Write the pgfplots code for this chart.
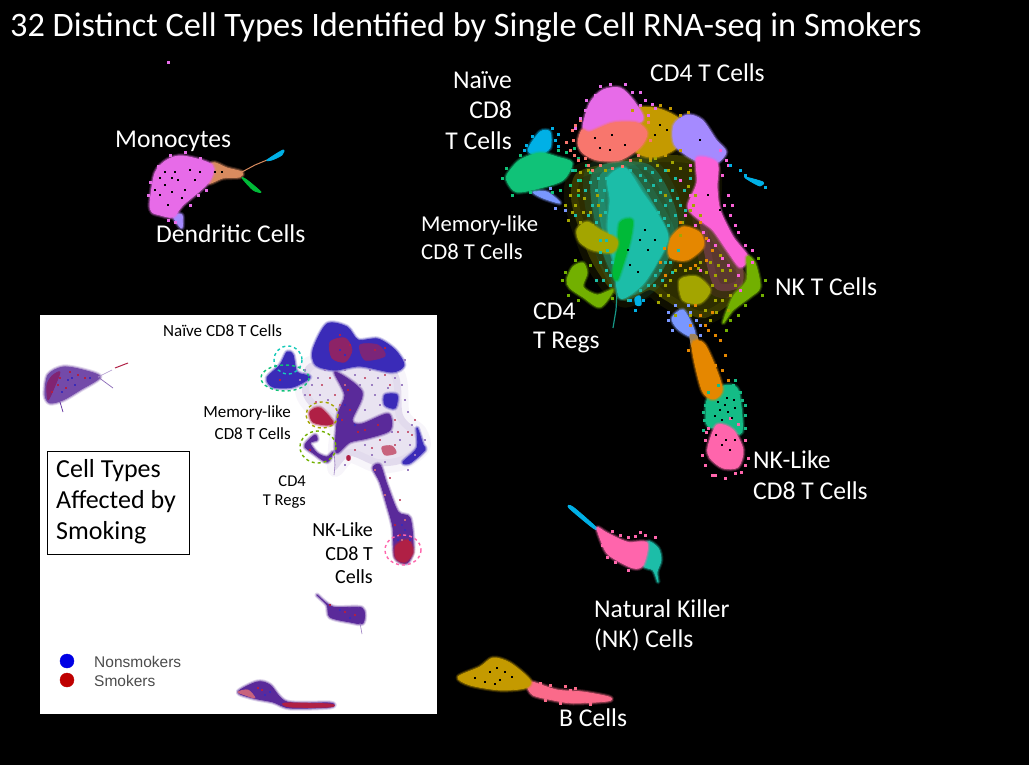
\documentclass[border=0pt]{standalone}
\usepackage{fontspec}
\setmainfont{Carlito}
\newfontfamily\arialf{Liberation Sans}
\usepackage{pgfplots}
\pgfplotsset{compat=1.18}
\definecolor{cViolet}{HTML}{E76BE8}
\definecolor{cSalmon}{HTML}{F8766D}
\definecolor{cGold}{HTML}{C49A00}
\definecolor{cLav}{HTML}{A58AFF}
\definecolor{cPink}{HTML}{FB61D7}
\definecolor{cOrange}{HTML}{E58700}
\definecolor{cTeal}{HTML}{1CBDA8}
\definecolor{cGreen}{HTML}{00BA38}
\definecolor{cNaive}{HTML}{10C278}
\definecolor{cCyan}{HTML}{00B0E6}
\definecolor{cPeri}{HTML}{7997FF}
\definecolor{cOlive}{HTML}{A3A500}
\definecolor{cLime}{HTML}{72B000}
\definecolor{cHot}{HTML}{FF65AC}
\definecolor{cRose}{HTML}{FB6A8A}
\definecolor{cBrown}{HTML}{D98B5F}
\definecolor{nBlue}{HTML}{3A2BB8}
\definecolor{nPurp}{HTML}{5A2A9A}
\definecolor{nRed}{HTML}{B02045}
% halo + solid, so that the edge of a cluster is soft
\newcommand{\blob}[2]{%
\addplot[smooth cycle,fill=none,draw=#1,line width=5pt,draw opacity=.2,line join=round] coordinates {#2};
\addplot[smooth cycle,fill=none,draw=#1,line width=3pt,draw opacity=.4,line join=round] coordinates {#2};
\addplot[smooth cycle,fill=#1,draw=#1,line width=.8pt,line join=round] coordinates {#2};}
\newcommand{\thin}[2]{\addplot[smooth cycle,fill=#1,draw=#1,line width=.8pt,line join=round] coordinates {#2};}
\newcommand{\haze}[3]{\addplot[smooth cycle,fill=#1,draw=#1,line width=14pt,draw opacity=#2/3,fill opacity=#2,line join=round] coordinates {#3};}
\newcommand{\specks}[3][0.8]{\addplot[only marks,mark=square*,mark size=#1,color=#2] coordinates {#3};}
\newcommand{\lab}[4][west]{\node[anchor=#1,text=white,inner sep=0pt,font=\fontsize{#2}{#2}\selectfont] at (axis cs:#3) {#4};}
\newcommand{\labk}[4][west]{\node[anchor=#1,text=black,inner sep=0pt,font=\fontsize{#2}{#2}\selectfont] at (axis cs:#3) {#4};}
\begin{document}
\begin{tikzpicture}
\begin{axis}[width=1029pt,height=765pt,scale only axis,hide axis,xmin=0,xmax=1029,ymin=0,ymax=765,y dir=reverse,clip=true]
% background
\addplot[fill=black,draw=none] coordinates {(0,0)(1029,0)(1029,765)(0,765)} -- cycle;
\addplot[fill=white,draw=none] coordinates {(40,315)(437,315)(437,714)(40,714)} -- cycle;
% ---- main map: diffuse zones
\haze{cOlive}{0.28}{(575,175)(600,165)(660,155)(712,165)(715,230)(748,282)(705,318)(665,300)(650,290)(622,300)(592,262)(572,205)}
\haze{cTeal}{0.30}{(592,172)(650,165)(678,220)(660,275)(628,295)(602,250)}
\haze{cTeal}{0.40}{(600,175)(630,170)(660,215)(668,240)(650,275)(625,292)(612,260)(600,220)}
\haze{cPink}{0.22}{(702,205)(738,250)(742,285)(715,288)(702,240)}
% CD4 T
\blob{cGold}{(630,112)(655,108)(678,118)(682,130)(676,148)(655,157)(635,150)}
\blob{cViolet}{(583,127)(590,103)(603,90)(620,88)(633,100)(643,117)(637,123)(613,123)(590,132)}
\blob{cSalmon}{(582,130)(590,132)(613,123)(637,123)(647,133)(640,147)(620,160)(597,160)(583,153)(578,143)}
\blob{cLav}{(674,125)(687,115)(702,120)(716,140)(726,152)(716,163)(695,160)(675,145)}
\blob{cPink}{(697,158)(717,163)(717,187)(720,210)(733,237)(748,257)(740,267)(727,250)(713,230)(700,220)(688,207)(697,183)}
\blob{cOrange}{(670,240)(683,227)(700,233)(703,247)(687,260)(670,257)}
\blob{cTeal}{(608,178)(625,168)(642,192)(658,215)(668,238)(657,262)(642,285)(620,298)(614,262)(608,228)(610,200)}
\blob{cGreen}{(620,223)(632,220)(630,240)(622,267)(617,280)(613,273)(618,247)}
\addplot[color=cTeal!80!black,line width=1.2pt] coordinates {(617,293)(616,310)(613,328)};
\blob{cCyan}{(528,150)(540,132)(550,132)(550,148)(538,155)}
\blob{cPeri}{(533,192)(547,192)(560,203)(543,198)}
\blob{cNaive}{(507,175)(520,160)(540,153)(557,157)(572,163)(563,180)(540,188)(517,192)(508,183)}
\blob{cOlive}{(577,230)(587,222)(600,230)(617,240)(613,252)(593,250)(580,242)}
\blob{cLime}{(567,280)(573,267)(583,263)(587,273)(583,287)(597,295)(613,290)(600,307)(583,297)(570,288)}
\blob{cOlive}{(680,280)(697,277)(710,290)(700,303)(683,300)}
\blob{cLime}{(747,257)(755,263)(760,287)(750,297)(733,310)(723,323)(733,297)(747,280)}
\blob{cPeri}{(672,318)(683,310)(693,327)(695,337)(687,335)(677,328)}
\thin{gray!70!cOrange}{(690,335)(697,336)(698,347)(692,347)}
\blob{cTeal!70!cGreen}{(708,398)(723,386)(738,390)(742,432)(727,430)(708,426)(706,412)}
\blob{cOrange}{(692,345)(705,345)(722,387)(714,399)(702,390)}
\blob{cHot}{(708,447)(717,425)(733,430)(743,450)(738,467)(723,468)(710,458)}
\thin{cCyan}{(745,177)(763,182)(760,186)(750,181)}
\thin{cCyan}{(635,298)(640,296)(641,305)(636,305)}
\specks[1]{cViolet}{(168,62)}
% sparse points read off the cloud
\specks{cTeal}{(585,190)(592,205)(598,178)(605,212)(610,232)(596,222)(640,175)(648,190)(655,200)(665,205)(672,190)(660,180)(668,225)(675,215)(640,205)(600,262)(606,270)(610,285)(596,280)(640,290)(645,275)(660,270)(665,262)(672,272)(604,190)(588,215)(652,172)(680,205)(684,190)(690,178)(578,180)(572,170)(600,240)(607,250)(575,215)(654,285)(628,300)(596,190)(590,182)(602,200)(610,215)(615,190)(606,178)(645,180)(653,185)(660,192)(650,208)(658,212)(664,218)(670,200)(677,198)(685,210)(675,178)(665,170)(645,168)(630,170)(612,262)(606,240)(600,252)(610,275)(603,280)(648,285)(655,275)(662,280)(670,262)(678,250)}
\specks{cOlive}{(570,195)(580,172)(588,170)(575,205)(583,212)(597,195)(605,170)(657,165)(668,170)(680,168)(690,170)(665,195)(695,195)(682,222)(670,280)(660,295)(668,295)(718,265)(725,280)(715,300)(705,310)(710,320)(690,315)(722,300)(675,270)(600,215)(594,235)(710,262)(698,268)(720,255)(568,220)(565,205)(580,222)(690,210)(640,160)(650,160)(715,275)(730,270)(735,285)(584,198)(578,190)(590,212)(572,212)(592,225)(598,205)(655,158)(672,162)(688,186)(693,205)(700,215)(680,235)(706,272)(712,285)(722,270)(730,295)(716,312)(700,262)(665,285)(658,302)(675,305)(675,315)(685,270)(728,310)}
\specks{cPink}{(722,175)(728,195)(730,215)(735,225)(745,245)(752,250)(708,240)(715,245)(722,258)(728,265)(738,275)(695,225)(685,215)(680,180)(690,165)(726,160)(740,290)(700,270)(724,205)(738,232)(752,262)(703,232)(690,195)(720,150)(728,165)(732,205)}
\specks{cOrange}{(660,262)(665,275)(706,260)(712,250)(695,265)(680,265)(708,330)(715,335)(705,325)(720,340)(725,355)(690,325)(715,365)(700,315)(695,305)(712,312)(728,380)(664,248)(706,238)(680,222)(700,222)(690,268)(702,350)(688,350)(722,370)(698,372)}
\specks{cNaive}{(575,170)(580,180)(586,165)(570,185)(560,190)(552,192)(578,158)(590,172)(502,178)(506,168)(512,195)(530,192)(566,152)(558,150)(574,148)(520,155)(578,195)}
\specks{cSalmon}{(575,125)(573,140)(570,150)(578,160)(588,165)(600,165)(612,168)(630,160)(580,120)(648,122)(650,140)(566,142)(572,130)(574,155)(592,170)(622,166)(638,155)(585,158)}
\specks{cViolet}{(585,110)(580,118)(595,95)(610,84)(625,84)(640,105)(648,115)(640,92)(655,108)(632,92)(645,100)(652,104)(586,100)(600,86)(575,128)}
\specks{cGold}{(660,105)(670,108)(680,115)(665,155)(650,158)(680,150)(632,110)(645,112)(688,112)}
\specks{cCyan}{(745,175)(765,187)(740,170)(730,165)(552,128)(555,140)(526,145)(635,310)(630,300)(643,300)(524,150)(532,136)(558,134)(558,146)}
\specks{cPeri}{(668,312)(675,305)(688,305)(696,320)(700,335)(672,330)(550,188)(565,210)(668,320)(690,312)(700,325)(555,208)}
\specks{cLime}{(565,272)(575,260)(590,265)(568,295)(590,300)(605,298)(762,295)(745,305)(730,320)(726,330)(758,258)(765,280)(595,302)(612,298)(578,300)(562,280)(738,315)}
\specks{cHot}{(705,440)(745,440)(748,458)(705,465)(715,475)(735,473)(725,478)(745,465)(702,455)(708,428)(712,475)(741,472)(706,432)(738,424)(730,418)}
\specks{cTeal!70!cGreen}{(705,405)(742,400)(745,415)(745,428)(704,420)(718,385)(733,385)(740,392)(703,430)(708,392)(735,380)(745,405)(703,412)}
\specks[0.5]{black}{(725,405)(728,412)(720,410)(732,418)(722,420)(715,416)(735,408)(726,440)(722,445)(730,450)(612,135)(625,145)(610,150)(700,140)(660,125)(655,135)(667,130)(640,240)(648,250)(630,265)(638,272)(720,210)(708,195)(727,398)(718,402)(734,400)(716,435)(735,440)(600,148)(595,138)(645,230)(628,250)(655,240)}
% monocytes
\blob{cLav}{(173,215)(182,215)(182,228)(177,223)}
\blob{cBrown}{(212,163)(227,168)(242,172)(240,177)(223,178)(208,183)}
\blob{cViolet}{(150,203)(155,173)(167,160)(183,156)(212,165)(208,183)(183,205)(173,217)(160,215)(152,212)}
\addplot[color=cBrown,line width=1pt] coordinates {(240,173)(255,165)(267,160)};
\thin{cCyan}{(267,160)(283,150)(282,155)(272,160)}
\thin{cGreen}{(242,178)(247,180)(261,192)(253,190)}
\specks{cViolet}{(148,195)(150,182)(158,166)(170,155)(185,152)(200,158)(175,222)(168,220)(190,205)(198,195)(206,190)}
\specks[0.5]{black}{(165,185)(172,192)(160,195)(178,180)(185,190)(168,205)(190,170)(175,172)(195,180)(160,178)(215,172)(182,198)(172,178)(165,172)(200,172)(155,190)(222,172)}
% NK
\thin{cCyan}{(569,508)(573,507)(597,528)(593,528)}
\blob{cTeal}{(647,542)(658,548)(661,560)(657,572)(658,582)(653,570)(643,565)}
\blob{cHot}{(597,528)(607,533)(627,542)(647,543)(643,565)(633,568)(613,558)(605,550)}
\specks{cHot}{(620,535)(635,536)(645,535)(655,537)(602,545)(607,557)(615,562)(628,570)(612,531)(628,537)(640,532)}
% B cells
\blob{cRose}{(527,685)(532,682)(557,690)(583,692)(609,697)(608,701)(573,703)(553,700)(533,695)}
\blob{cGold}{(458,677)(480,667)(493,658)(510,663)(530,680)(525,688)(500,690)(470,685)}
\specks{cRose}{(540,683)(550,685)(565,686)(575,688)(545,700)(560,703)(590,704)(570,690)}
\specks[0.5]{black}{(475,678)(490,672)(500,680)(505,672)(497,668)(512,677)(485,682)(495,684)}
% ---- inset
\haze{nPurp}{0.13}{(302,388)(313,362)(393,368)(403,415)(420,432)(423,448)(403,463)(377,466)(350,456)(335,470)(335,448)(335,425)(309,405)}
\blob{nBlue}{(313,350)(327,324)(347,327)(358,340)(378,339)(395,350)(404,365)(392,372)(360,366)(335,370)(316,365)}
\thin{nRed!70!nBlue}{(330,342)(345,338)(352,350)(345,362)(332,358)}
\thin{nRed!55!nBlue}{(360,345)(378,345)(385,356)(365,360)}
\blob{nPurp}{(335,372)(362,392)(352,420)(362,424)(388,414)(390,430)(368,438)(350,442)(336,452)(338,415)(345,395)}
\blob{nBlue}{(385,395)(397,395)(395,408)(385,405)}
\blob{nBlue}{(267,378)(280,365)(287,352)(293,355)(297,372)(310,377)(293,387)(273,387)}
\blob{nRed}{(310,412)(320,408)(333,422)(327,425)(313,422)}
\blob{nPurp}{(307,442)(315,435)(317,440)(310,443)(317,453)(327,457)(333,452)(327,462)(313,453)(305,447)}
\blob{nBlue}{(417,428)(423,445)(425,450)(410,463)(403,462)(417,448)}
\thin{nRed!70!white}{(382,447)(392,446)(396,453)(385,455)}
\thin{nRed}{(347,456)(350,456)(350,460)(347,460)}
\blob{nPurp}{(373,468)(380,465)(387,485)(398,512)(410,518)(413,548)(407,563)(395,557)(393,528)(387,505)(380,482)}
\blob{nRed}{(396,546)(408,540)(413,552)(405,562)(396,558)}
\addplot[color=nPurp!60!white,line width=.6pt] coordinates {(334,450)(335,465)(334,475)};
\blob{nPurp!85!white}{(45,395)(48,375)(63,367)(83,370)(100,377)(80,390)(63,400)(50,403)}
\thin{nRed!60!nBlue}{(47,385)(52,376)(60,372)(54,388)(48,400)}
\addplot[color=nPurp,line width=.7pt] coordinates {(60,402)(63,412)};
\addplot[color=nPurp!70!white,line width=.7pt] coordinates {(98,377)(113,388)};
\addplot[color=nPurp!50!white,line width=.6pt] coordinates {(98,377)(112,370)};
\addplot[color=nRed,line width=1pt] coordinates {(115,368)(128,363)};
\blob{nPurp}{(317,595)(333,607)(362,608)(363,623)(350,622)(330,617)(327,605)}
\addplot[color=nPurp!60!white,line width=.6pt] coordinates {(360,623)(362,634)};
\blob{nPurp}{(238,692)(257,682)(270,685)(287,702)(330,703)(330,707)(290,708)(273,702)(253,698)}
\thin{nRed}{(285,703)(330,704)(330,707)(290,707)}
\thin{nRed!70!white}{(238,692)(248,690)(255,698)(245,695)}
\specks[0.6]{nPurp!60!white}{(305,395)(312,385)(320,395)(328,400)(300,380)(345,465)(395,378)(405,400)(412,425)(425,440)(408,470)(372,455)(365,445)(355,375)(372,385)(380,405)(365,410)(400,440)(415,455)(345,370)(405,360)(318,378)(325,370)(305,370)(378,378)(388,388)(402,385)(408,412)(375,395)(360,385)(370,370)(392,432)(410,445)(385,462)}
\specks[0.6]{nRed!70!white}{(310,395)(322,385)(335,395)(395,420)(398,432)(408,432)(415,420)(375,470)(365,378)(390,385)(380,440)(355,450)(340,405)(405,530)(400,500)(390,478)(385,495)(316,402)(330,378)(345,385)(385,375)(412,435)(395,445)(372,448)(405,520)(402,540)}
\specks[0.6]{nRed}{(60,378)(70,372)(78,375)(52,392)(58,385)(66,388)(85,378)(340,335)(350,345)(375,350)(385,348)(348,390)(342,420)(358,432)(350,410)(378,425)(365,430)(395,525)(400,535)(262,690)(258,688)(330,605)(345,612)(355,615)(310,450)(280,380)}
\specks[0.6]{nBlue}{(68,380)(75,385)(62,392)(72,378)(90,378)(340,420)(345,405)(355,425)(405,530)(402,525)(398,540)(265,695)(270,692)(350,618)(340,610)(410,540)(340,350)(345,355)}
% legend dots, from the key
\addplot[only marks,mark=*,mark size=7pt,color=blue!90!black] coordinates {(67,661)};
\addplot[only marks,mark=*,mark size=7pt,color=red!75!black] coordinates {(67,680)};
% dashed rings
\draw[cTeal!80!cyan,dashed,line width=1.4pt] (axis cs:288,360) ellipse [x radius=14,y radius=14];
\draw[cNaive,dashed,line width=1.4pt] (axis cs:285,378) ellipse [x radius=24,y radius=13];
\draw[cOlive,dashed,line width=1.4pt] (axis cs:322,415) ellipse [x radius=16,y radius=13];
\draw[cLime,dashed,line width=1.4pt] (axis cs:318,447) ellipse [x radius=18,y radius=16];
\draw[cHot,dashed,line width=1.4pt] (axis cs:403,550) ellipse [x radius=18,y radius=15];
% box
\draw[black,line width=.8pt,fill=white] (axis cs:47,451) rectangle (axis cs:189,554);
% text
\lab{34.3}{10,28}{32 Distinct Cell Types Identified by Single Cell RNA-seq in Smokers}
\lab[east]{25.6}{512,80}{Naïve}
\lab[east]{25.6}{512,110}{CD8}
\lab[east]{25.6}{512,141}{T Cells}
\lab{25.6}{650,73}{CD4 T Cells}
\lab{25.6}{115,141}{Monocytes}
\lab{25.6}{156,234}{Dendritic Cells}
\lab{22.7}{421,225}{Memory-like}
\lab{22.7}{421,252}{CD8 T Cells}
\lab{25.6}{775,287}{NK T Cells}
\lab{25.6}{533,311}{CD4}
\lab{25.6}{533,342}{T Regs}
\lab{25.6}{753,460}{NK-Like}
\lab{25.6}{753,491}{CD8 T Cells}
\lab{25.6}{594,609}{Natural Killer}
\lab{25.6}{594,640}{(NK) Cells}
\lab{25.6}{559,718}{B Cells}
\labk{17}{163,331}{Naïve CD8 T Cells}
\labk[east]{17}{291,413}{Memory-like}
\labk[east]{17}{291,434}{CD8 T Cells}
\labk[east]{16.5}{306,481}{CD4}
\labk[east]{16.5}{306,502}{T Regs}
\labk[east]{20}{373,530}{NK-Like}
\labk[east]{20}{373,554}{CD8 T}
\labk[east]{20}{373,577}{Cells}
\labk{26}{56,471}{Cell Types}
\labk{26}{56,502}{Affected by}
\labk{26}{56,533}{Smoking}
\node[anchor=west,text=black!70,inner sep=0pt,font=\arialf\fontsize{15.5}{15.5}\selectfont] at (axis cs:94,662) {Nonsmokers};
\node[anchor=west,text=black!70,inner sep=0pt,font=\arialf\fontsize{15.5}{15.5}\selectfont] at (axis cs:94,681) {Smokers};
\end{axis}
\end{tikzpicture}
\end{document}
